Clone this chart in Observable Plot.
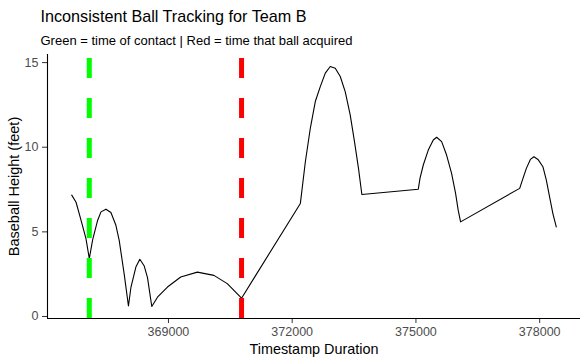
<!DOCTYPE html>
<html><head><meta charset="utf-8">
<script src="https://cdn.jsdelivr.net/npm/d3@7"></script>
<script src="https://cdn.jsdelivr.net/npm/@observablehq/plot@0.6"></script>
<style>
body{margin:0;background:#fff;font-family:"Liberation Sans",Arial,sans-serif;}
#wrap{width:588px;height:363px;position:relative;overflow:hidden;background:#fff}
#head{position:relative;height:50px}
.t{position:absolute;left:40.5px;line-height:1;white-space:nowrap;color:#000}
#title{top:7.6px;font-size:16.2px}
#sub{top:34.4px;font-size:13px}
</style></head><body>
<div id="wrap"><div id="head"><div id="title" class="t">Inconsistent Ball Tracking for Team B</div><div id="sub" class="t">Green = time of contact | Red = time that ball acquired</div></div><div id="chart"></div></div>
<script>
const timestamps = [366655,366760,366880,367000,367081,367163,367284,367364,367485,367605,367726,367806,367927,368030,368089,368210,368306,368410,368492,368596,368734,368976,369297,369701,370102,370426,370772,
  372198,372319,372439,372560,372681,372802,372923,373044,373165,373285,373406,373510,373607,373689,
  375057,375098,375178,375299,375420,375502,375623,375743,375864,375961,376024,376082,
  377515,377595,377677,377774,377861,377958,378078,378161,378240,378320,378402];
const heights = [7.17,6.75,5.69,4.6,3.42,4.54,5.69,6.18,6.34,6.14,5.39,4.50,2.5,0.62,1.7,2.92,3.38,3.0,2.3,0.59,1.14,1.74,2.33,2.62,2.43,1.94,1.08,
  6.68,9.14,11.12,12.70,13.58,14.38,14.77,14.67,14.18,13.29,11.91,10.33,8.75,7.21,
  7.52,8.16,8.95,9.83,10.43,10.59,10.33,9.54,8.45,7.27,6.28,5.59,
  7.57,8.16,8.75,9.28,9.44,9.28,8.85,8.06,7.07,6.08,5.29];
const contactTime = [367081];
const acquiredTime = [370772];
const xTicks = [369000,372000,375000,378000];
const yTicks = [0,5,10,15];
const xLabel = "Timestamp Duration";
const yLabel = "Baseball Height (feet)";

const data = timestamps.map((t,i)=>({t, h: heights[i]}));
const expand = ([a,b]) => [a-(b-a)*0.05, b+(b-a)*0.05];
const xDom = expand(d3.extent(timestamps));
const yDom = expand(d3.extent(heights));
const font = '"Liberation Sans", Arial, sans-serif';

const chart = Plot.plot({
  width:588, height:313, marginTop:4, marginBottom:45, marginLeft:47, marginRight:8,
  x:{domain:xDom}, y:{domain:yDom},
  style:{fontFamily:font, fontSize:"12.5px", color:"#4D4D4D", background:"#fff", display:"block"},
  marks:[
    Plot.axisX({ticks:xTicks, tickFormat:d=>String(d), tickSize:5, tickPadding:4, label:null, stroke:"#333"}),
    Plot.axisY({ticks:yTicks, tickSize:5, tickPadding:4, label:null, stroke:"#333"}),
    Plot.ruleY([yDom[0]], {stroke:"#000", strokeWidth:1.1}),
    Plot.ruleX([xDom[0]], {stroke:"#000", strokeWidth:1.1}),
    Plot.line(data, {x:"t", y:"h", stroke:"#000", strokeWidth:1.1}),
    Plot.ruleX(contactTime, {stroke:"#00FF00", strokeWidth:5, strokeDasharray:"20,20", strokeDashoffset:36}),
    Plot.ruleX(acquiredTime, {stroke:"#FF0000", strokeWidth:5, strokeDasharray:"20,20", strokeDashoffset:36}),
    Plot.text([xLabel], {frameAnchor:"bottom", text:d=>d, dy:35.5, lineAnchor:"bottom", textAnchor:"middle", fontSize:14.4, fill:"#000"}),
    Plot.text([yLabel], {frameAnchor:"left", text:d=>d, rotate:-90, dx:-28.3, lineAnchor:"bottom", textAnchor:"middle", fontSize:14.5, fill:"#000"})
  ]
});
document.getElementById("chart").appendChild(chart);
</script>
</body></html>
